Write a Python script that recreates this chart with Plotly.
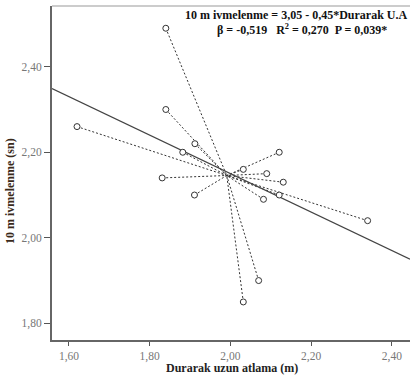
import plotly.graph_objects as go

# Data
x_vals = [1.62, 1.84, 1.84, 1.912, 1.882, 1.831, 1.911, 2.032, 2.121, 2.090, 2.131, 2.121, 2.082, 2.340, 2.070, 2.032]
y_vals = [2.26, 2.49, 2.30, 2.22, 2.20, 2.14, 2.10, 2.16, 2.20, 2.15, 2.13, 2.10, 2.09, 2.04, 1.90, 1.85]
intercept = 3.05
slope = -0.45
x_range = [1.558, 2.445]
y_range = [1.761, 2.542]
x_ticks = [1.6, 1.8, 2.0, 2.2, 2.4]
y_ticks = [1.8, 2.0, 2.2, 2.4]
eq_line1 = "10 m ivmelenme = 3,05 - 0,45*Durarak U.A"
eq_line2 = "β = -0,519   R<sup>2</sup> = 0,270  P = 0,039*"
x_title = "Durarak uzun atlama (m)"
y_title = "10 m ivmelenme (sn)"

cx = sum(x_vals) / len(x_vals)
cy = sum(y_vals) / len(y_vals)

fig = go.Figure()

# dotted spokes to centroid
sx, sy = [], []
for xv, yv in zip(x_vals, y_vals):
    sx += [xv, cx, None]
    sy += [yv, cy, None]
fig.add_trace(go.Scatter(x=sx, y=sy, mode="lines",
                         line=dict(color="#333333", width=1, dash="2px,2px"),
                         hoverinfo="skip", showlegend=False))

# regression line
fig.add_trace(go.Scatter(x=x_range, y=[intercept + slope * v for v in x_range],
                         mode="lines", line=dict(color="#444444", width=1.2),
                         showlegend=False))

# points
fig.add_trace(go.Scatter(x=x_vals, y=y_vals, mode="markers",
                         marker=dict(symbol="circle", size=6, color="white",
                                     line=dict(color="#333333", width=1)),
                         showlegend=False))

font_family = "Liberation Serif, Times New Roman, serif"

fig.update_layout(
    width=410, height=375,
    margin=dict(l=52, r=0, t=6, b=35),
    paper_bgcolor="white", plot_bgcolor="white",
    separators=",.",
    font=dict(family=font_family, size=12, color="#666666"),
    xaxis=dict(range=x_range, tickvals=x_ticks, tickformat=".2f",
               showgrid=False, zeroline=False, showline=True, linecolor="#666666",
               linewidth=2, ticks="outside", ticklen=4, tickcolor="#555555",
               tickfont=dict(size=11.5, color="#777777"), mirror=False),
    yaxis=dict(range=y_range, tickvals=y_ticks, tickformat=".2f",
               showgrid=False, zeroline=False, showline=True, linecolor="#666666",
               linewidth=2, ticks="outside", ticklen=6, tickcolor="#555555",
               tickfont=dict(size=11.5, color="#777777"), mirror=False),
    shapes=[dict(type="line", xref="paper", yref="paper", x0=0, x1=1, y0=1, y1=1,
                 line=dict(color="#999999", width=1))],
    annotations=[
        dict(text="<b>" + eq_line1 + "</b>", xref="paper", yref="paper",
             x=(296 - 52) / 358, y=(340 - 15) / 334, xanchor="center", yanchor="middle",
             showarrow=False, font=dict(size=12, color="#111111", family=font_family)),
        dict(text="<b>" + eq_line2 + "</b>", xref="paper", yref="paper",
             x=(302 - 52) / 358, y=(340 - 29) / 334, xanchor="center", yanchor="middle",
             showarrow=False, font=dict(size=12, color="#111111", family=font_family)),
        dict(text="<b>" + x_title + "</b>", xref="paper", yref="paper",
             x=(232 - 52) / 358, y=(340 - 368) / 334, xanchor="center", yanchor="middle",
             showarrow=False, font=dict(size=12, color="#222222", family=font_family)),
        dict(text="<b>" + y_title + "</b>", xref="paper", yref="paper",
             x=(10 - 52) / 358, y=(340 - 191) / 334, xanchor="center", yanchor="middle",
             textangle=-90, showarrow=False,
             font=dict(size=12, color="#3a2a1a", family=font_family)),
    ],
)

fig.write_html("out.html", config={"displayModeBar": False},
               post_script="document.body.style.margin='0';document.body.style.overflow='hidden';")
